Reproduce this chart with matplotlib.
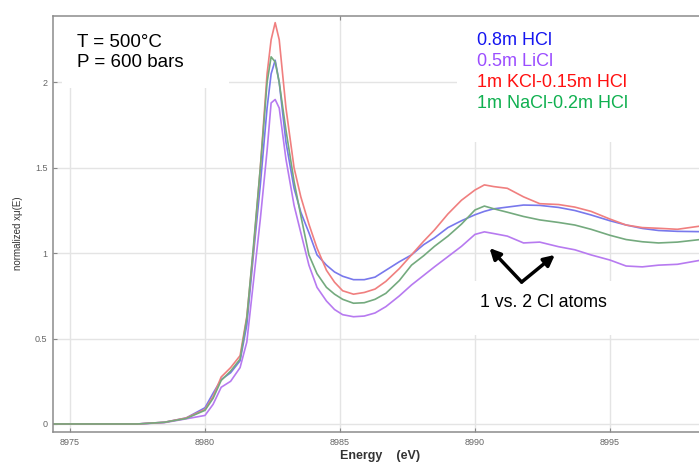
import matplotlib.pyplot as plt
from matplotlib.patches import Rectangle

plt.rcParams['font.family'] = ['Liberation Sans', 'DejaVu Sans']

# energia (eV), grade comum para as quatro curvas
energy = [8974.37, 8977.5, 8978.5, 8979.3, 8980.0, 8980.3, 8980.6, 8980.95, 8981.3, 8981.55,
          8981.8, 8982.05, 8982.3, 8982.45, 8982.6, 8982.75, 8983.0, 8983.3, 8983.55, 8983.85,
          8984.15, 8984.5, 8984.8, 8985.1, 8985.5, 8985.9, 8986.3, 8986.7, 8987.2, 8987.65,
          8988.1, 8988.5, 8989.0, 8989.5, 8990.0, 8990.35, 8990.7, 8991.2, 8991.8, 8992.4,
          8993.1, 8993.7, 8994.3, 8995.0, 8995.6, 8996.2, 8996.8, 8997.5, 8998.4]

hcl = [0, 0, 0.01, 0.035, 0.095, 0.18, 0.26, 0.30, 0.37, 0.58,
       1.0, 1.4, 1.85, 2.05, 2.13, 2.0, 1.65, 1.38, 1.24, 1.12,
       0.99, 0.93, 0.89, 0.865, 0.845, 0.845, 0.86, 0.90, 0.95, 0.99,
       1.05, 1.09, 1.15, 1.19, 1.225, 1.245, 1.26, 1.27, 1.282, 1.28,
       1.268, 1.25, 1.224, 1.19, 1.165, 1.145, 1.133, 1.128, 1.126]

licl = [0, 0, 0.008, 0.03, 0.05, 0.115, 0.215, 0.25, 0.33, 0.48,
        0.84, 1.2, 1.6, 1.88, 1.90, 1.85, 1.55, 1.28, 1.12, 0.93,
        0.80, 0.72, 0.67, 0.64, 0.628, 0.632, 0.65, 0.687, 0.75, 0.814,
        0.87, 0.92, 0.98, 1.04, 1.11, 1.125, 1.115, 1.10, 1.06, 1.065,
        1.038, 1.02, 0.99, 0.96, 0.925, 0.92, 0.93, 0.935, 0.96]

kcl = [0, 0, 0.01, 0.035, 0.085, 0.16, 0.275, 0.33, 0.40, 0.63,
       1.03, 1.5, 2.05, 2.25, 2.35, 2.25, 1.85, 1.5, 1.33, 1.17,
       1.03, 0.90, 0.83, 0.78, 0.76, 0.77, 0.79, 0.835, 0.91, 0.99,
       1.07, 1.136, 1.23, 1.31, 1.37, 1.40, 1.39, 1.38, 1.33, 1.29,
       1.285, 1.27, 1.245, 1.20, 1.165, 1.15, 1.146, 1.14, 1.16]

nacl = [0, 0, 0.01, 0.032, 0.08, 0.15, 0.255, 0.31, 0.38, 0.62,
        1.05, 1.5, 2.0, 2.15, 2.12, 2.0, 1.72, 1.42, 1.22, 0.99,
        0.88, 0.80, 0.76, 0.73, 0.707, 0.71, 0.73, 0.765, 0.84, 0.93,
        0.985, 1.04, 1.10, 1.17, 1.253, 1.276, 1.26, 1.24, 1.215, 1.195,
        1.18, 1.165, 1.14, 1.105, 1.08, 1.067, 1.06, 1.065, 1.081]

labels = ['0.8m HCl', '0.5m LiCl', '1m KCl-0.15m HCl', '1m NaCl-0.2m HCl']
text_colors = ['#1515f0', '#9b4dff', '#ff1010', '#10b050']
line_colors = ['#7878ec', '#b77af0', '#f07f7f', '#74aa7e']
series = [hcl, licl, kcl, nacl]

fig = plt.figure(figsize=(6.99, 4.62), dpi=100)
ax = fig.add_axes([53/699, 30/462, 646/699, 416/462])
ax.set_axisbelow(True)

# caixas brancas que escondem a grade atras dos textos
for x0, y0, w, h in [(0.014, 0.827, 0.258, 0.173), (0.625, 0.697, 0.375, 0.303),
                     (0.645, 0.233, 0.27, 0.130)]:
    ax.add_patch(Rectangle((x0, y0), w, h, transform=ax.transAxes,
                           facecolor='white', edgecolor='none', zorder=1))

for ys, c in zip(series, line_colors):
    ax.plot(energy, ys, color=c, lw=1.2, zorder=2)

ax.set_xlim(8974.37, 8998.3)
ax.set_ylim(-0.047, 2.389)
ax.set_xticks([8975, 8980, 8985, 8990, 8995])
ax.set_yticks([0, 0.5, 1, 1.5, 2])
ax.set_yticklabels(['0', '0.5', '1', '1.5', '2'])
ax.grid(True, color='#e4e4e4', lw=1)
ax.tick_params(direction='in', length=3, labelsize=6.5, labelcolor='#666666',
               color='#888888', top=True, pad=4)
for s in ['left', 'bottom', 'top']:
    ax.spines[s].set_color('#8c8c8c')
    ax.spines[s].set_linewidth(1.1)
ax.spines['right'].set_visible(False)

fig.text(0.026, 0.496, 'normalized xμ(E)', rotation=90, fontsize=7,
         color='#333333', ha='center', va='center')
fig.text(0.544, 0.014, 'Energy    (eV)', fontsize=9, fontweight='bold',
         color='#333333', ha='center', va='center')

fig.text(0.110, 0.909, 'T = 500°C', fontsize=13.5, va='center')
fig.text(0.110, 0.864, 'P = 600 bars', fontsize=13.5, va='center')

for i, (lab, c) in enumerate(zip(labels, text_colors)):
    fig.text(0.683, 0.913 - i*0.0456, lab, fontsize=13, color=c, va='center')

fig.text(0.777, 0.345, '1 vs. 2 Cl atoms', fontsize=12.8, ha='center', va='center')
for tx, ty in [(8990.54, 1.03), (8992.96, 0.99)]:
    ax.annotate('', xy=(tx, ty), xytext=(8991.73, 0.831),
                arrowprops=dict(arrowstyle='-|>', color='black', lw=2.5,
                                mutation_scale=16, shrinkA=0, shrinkB=0), zorder=3)

fig.savefig('out.png', dpi=100)
